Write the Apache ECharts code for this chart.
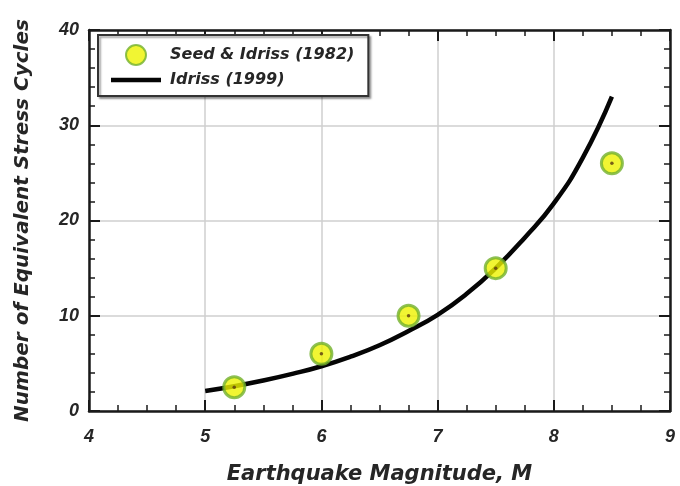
<!DOCTYPE html>
<html>
<head>
<meta charset="utf-8">
<script src="https://cdn.jsdelivr.net/npm/echarts@6/dist/echarts.min.js"></script>
<style>html,body{margin:0;padding:0;background:#fff}#c{width:680px;height:486px}</style>
</head>
<body>
<div id="c"></div>
<script>
// Seed & Idriss (1982) points
const seedMagnitudes = [5.25, 6, 6.75, 7.5, 8.5];
const seedCycles = [2.5, 6, 10, 15, 26];
// Idriss (1999) curve
const idrissMagnitudes = [5, 5.25, 5.5, 5.75, 6, 6.25, 6.5, 6.75, 7, 7.25, 7.5, 7.75, 8, 8.25, 8.5];
const idrissCycles = [2.1, 2.6, 3.2, 3.9, 4.7, 5.7, 6.9, 8.4, 10.1, 12.3, 15.0, 18.2, 21.8, 26.6, 33.0];
const xTicks = [4, 5, 6, 7, 8, 9];
const yTicks = [0, 10, 20, 30, 40];
const seriesNames = ['Seed & Idriss (1982)', 'Idriss (1999)'];
const xTitle = 'Earthquake Magnitude, M';
const yTitle = 'Number of Equivalent Stress Cycles';

const seedData = seedMagnitudes.map((m, i) => [m, seedCycles[i]]);
const idrissData = idrissMagnitudes.map((m, i) => [m, idrissCycles[i]]);

const labelFont = {fontFamily: 'Liberation Sans', fontWeight: 'bold', fontStyle: 'italic', fontSize: 18, color: '#262626'};
const titleFont = {fontFamily: 'DejaVu Sans', fontWeight: 'bold', fontStyle: 'italic', color: '#262626'};
const axisCol = '#1a1a1a';

function xAxisDef(pos, labels) {
  return {
    type: 'value', position: pos, min: xTicks[0], max: xTicks[xTicks.length - 1], interval: 1,
    name: labels ? xTitle : '', nameLocation: 'middle', nameGap: 53,
    nameTextStyle: Object.assign({fontSize: 21}, titleFont),
    axisLine: {show: true, onZero: false, lineStyle: {color: axisCol, width: 2.5}},
    axisTick: {show: true, inside: true, length: 11, lineStyle: {color: axisCol, width: 2}},
    minorTick: {show: true, splitNumber: 4, length: 6, lineStyle: {color: axisCol, width: 1.5}},
    axisLabel: labels ? Object.assign({show: true, margin: 17}, labelFont) : {show: false},
    splitLine: {show: labels, lineStyle: {color: '#cfcfcf', width: 1.5}}
  };
}
function yAxisDef(pos, labels) {
  return {
    type: 'value', position: pos, min: yTicks[0], max: yTicks[yTicks.length - 1], interval: 10,
    name: labels ? yTitle : '', nameLocation: 'middle', nameGap: 56, nameRotate: 90,
    nameTextStyle: Object.assign({fontSize: 20}, titleFont),
    axisLine: {show: true, onZero: false, lineStyle: {color: axisCol, width: 2.5}},
    axisTick: {show: true, inside: true, length: 11, lineStyle: {color: axisCol, width: 2}},
    minorTick: {show: true, splitNumber: 5, length: 6, lineStyle: {color: axisCol, width: 1.5}},
    axisLabel: labels ? Object.assign({show: true, margin: 10}, labelFont) : {show: false},
    splitLine: {show: labels, lineStyle: {color: '#cfcfcf', width: 1.5}}
  };
}

const chart = echarts.init(document.getElementById('c'), null, {renderer: 'canvas'});
chart.setOption({
  animation: false,
  backgroundColor: '#ffffff',
  grid: {left: 89, right: 10, top: 30, bottom: 75, outerBoundsMode: 'none', containLabel: false},
  xAxis: [xAxisDef('bottom', true), xAxisDef('top', false)],
  yAxis: [yAxisDef('left', true), yAxisDef('right', false)],
  legend: {
    orient: 'vertical', left: 98, top: 35,
    data: [
      {name: seriesNames[0], icon: 'circle'},
      {name: seriesNames[1], icon: 'path://M0,0 L50,0 L50,4.5 L0,4.5 Z'}
    ],
    symbolKeepAspect: true,
    itemWidth: 50, itemHeight: 20, itemGap: 6,
    padding: [9, 14, 8, 13],
    backgroundColor: '#ffffff',
    borderColor: '#333333', borderWidth: 2,
    shadowColor: 'rgba(0,0,0,0.35)', shadowBlur: 2, shadowOffsetX: 2, shadowOffsetY: 2,
    textStyle: {fontFamily: 'DejaVu Sans', fontWeight: 'bold', fontStyle: 'italic', fontSize: 16, color: '#262626', padding: [0, 0, 0, 4]}
  },
  series: [
    {
      name: seriesNames[1], type: 'line', data: idrissData, smooth: true,
      showSymbol: false, symbol: 'none', z: 2,
      lineStyle: {color: '#050505', width: 4.5}, itemStyle: {color: '#050505'}
    },
    {
      name: seriesNames[0], type: 'scatter', data: seedData, symbol: 'circle', symbolSize: 21, z: 3,
      itemStyle: {color: '#eef200', borderColor: '#72b02c', borderWidth: 3}
    },
    {
      name: 'dots', type: 'scatter', data: seedData, symbol: 'circle', symbolSize: 3.5, z: 4,
      itemStyle: {color: '#5a3a10'}, silent: true
    }
  ]
});
</script>
</body>
</html>
